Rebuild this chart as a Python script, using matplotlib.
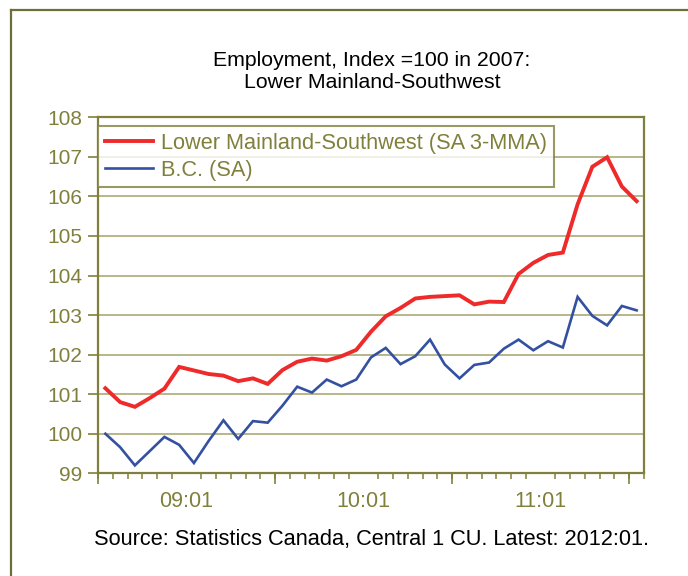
import matplotlib
matplotlib.use("Agg")
import matplotlib.pyplot as plt
from matplotlib.lines import Line2D

plt.rcParams["font.family"] = ["Liberation Sans", "DejaVu Sans"]

# monthly, 2009:01 .. 2012:01
lower_mainland = [101.15, 100.8, 100.68, 100.9, 101.14, 101.69, 101.6, 101.51, 101.47, 101.33,
                  101.4, 101.26, 101.61, 101.82, 101.9, 101.85, 101.96, 102.12, 102.58, 102.97,
                  103.18, 103.42, 103.46, 103.48, 103.5, 103.27, 103.34, 103.33, 104.04, 104.32,
                  104.52, 104.58, 105.8, 106.75, 106.99, 106.25, 105.88]
bc = [100.0, 99.66, 99.2, 99.56, 99.92, 99.72, 99.26, 99.82, 100.34, 99.87,
      100.32, 100.28, 100.71, 101.19, 101.04, 101.37, 101.2, 101.37, 101.93, 102.17,
      101.76, 101.96, 102.38, 101.75, 101.4, 101.74, 101.8, 102.15, 102.38, 102.11,
      102.34, 102.18, 103.46, 102.98, 102.74, 103.23, 103.12]
year_labels = ["09:01", "10:01", "11:01"]
y_ticks = [99, 100, 101, 102, 103, 104, 105, 106, 107, 108]

OLIVE = "#80803c"
GRID = "#a3a36a"
RED = "#ee2a2a"
BLUE = "#3450a0"

fig = plt.figure(figsize=(6.88, 5.76), dpi=100)
ax = fig.add_axes([98 / 688, 1 - 473.3 / 576, (644 - 98) / 688, (473.3 - 117.3) / 576])

x = list(range(len(bc)))
ax.plot(x, lower_mainland, color=RED, lw=2.8, label="Lower Mainland-Southwest (SA 3-MMA)",
        solid_joinstyle="miter", zorder=3)
ax.plot(x, bc, color=BLUE, lw=1.9, label="B.C. (SA)", solid_joinstyle="miter", zorder=3)

ax.set_xlim(-0.5, len(bc) - 0.5)
ax.set_ylim(99, 108)
ax.set_yticks(y_ticks)
ax.grid(axis="y", color=GRID, lw=1.1)
ax.set_axisbelow(True)

for s in ax.spines.values():
    s.set_color(OLIVE)
    s.set_linewidth(1.6)

ax.tick_params(axis="y", colors=OLIVE, labelsize=15, length=7, width=1.2, pad=4)

# year labels centred in each 12-month span, month ticks as minor ticks
ax.set_xticks([5.5, 17.5, 29.5])
ax.set_xticklabels(year_labels)
ax.set_xticks([i - 0.5 for i in range(len(bc) + 1)], minor=True)
ax.tick_params(axis="x", which="major", length=0, labelsize=15.5, labelcolor=OLIVE, pad=13)
ax.tick_params(axis="x", which="minor", length=4, width=1.1, color=OLIVE)

sec = ax.secondary_xaxis("bottom")
sec.set_xticks([-0.5, 11.5, 23.5, 35.5])
sec.set_xticklabels([])
sec.tick_params(length=8, width=1.2, color=OLIVE)
sec.spines["bottom"].set_visible(False)

leg = ax.legend(loc="upper left", bbox_to_anchor=(0, 347.3 / 356), borderaxespad=0,
                fontsize=15.7, frameon=True, fancybox=False, handlelength=2.2,
                handletextpad=0.4, borderpad=0.3, labelspacing=0.28)
leg.get_frame().set_edgecolor(OLIVE)
leg.get_frame().set_linewidth(1.5)
for t in leg.get_texts():
    t.set_color(OLIVE)

fig.text(372 / 688, 1 - 60 / 576, "Employment, Index =100 in 2007:", ha="center", va="center",
         fontsize=15.3)
fig.text(372 / 688, 1 - 82 / 576, "Lower Mainland-Southwest", ha="center", va="center",
         fontsize=15.3)
fig.text(372 / 688, 1 - 540 / 576, "Source: Statistics Canada, Central 1 CU. Latest: 2012:01.",
         ha="center", va="center", fontsize=15.7)

# outer chart frame (left and top edges visible)
fig.add_artist(Line2D([11 / 688, 11 / 688], [0, 1 - 10 / 576], transform=fig.transFigure,
                      color="#6e6e3a", lw=1.6))
fig.add_artist(Line2D([11 / 688, 1], [1 - 10 / 576, 1 - 10 / 576], transform=fig.transFigure,
                      color="#6e6e3a", lw=1.6))

fig.savefig("out.png", dpi=100)
